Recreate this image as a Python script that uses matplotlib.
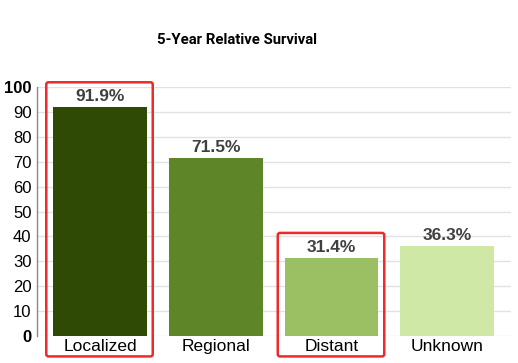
import matplotlib.pyplot as plt
from matplotlib.patches import FancyBboxPatch

categories = ["Localized", "Regional", "Distant", "Unknown"]
survival = [91.9, 71.5, 31.4, 36.3]
colors = ["#2e4a04", "#5e8526", "#9bc063", "#cfe8a6"]
highlight = ["Localized", "Distant"]
yticks = [0, 10, 20, 30, 40, 50, 60, 70, 80, 90, 100]

plt.rcParams['font.family'] = ['Liberation Sans', 'DejaVu Sans']

fig = plt.figure(figsize=(5.18, 3.63), dpi=100)
ax = fig.add_axes([37 / 518, 1 - 336 / 363, 474 / 518, 249 / 363])

x = range(len(categories))
bars = ax.bar(x, survival, width=0.81, color=colors, zorder=2)

for i, v in enumerate(survival):
    ax.text(i, v + 1.2, f"{v}%", ha="center", va="bottom", fontsize=12.5,
            fontweight="bold", color="#404040")

# red frames around highlighted stages
for i, cat in enumerate(categories):
    if cat in highlight:
        top = survival[i] + 10
        box = FancyBboxPatch((i - 0.465, -8.2), 0.92, top + 8.2,
                             boxstyle="round,pad=0,rounding_size=0.02",
                             fill=False, edgecolor="#ee2a2a", linewidth=1.8,
                             clip_on=False, zorder=3,
                             mutation_aspect=100 / 0.92 * 0.4)
        ax.add_patch(box)

ax.set_xlim(-0.545, len(categories) - 0.45)
ax.set_ylim(0, 100)
ax.set_xticks(list(x))
ax.set_xticklabels(categories, fontsize=12.5)
ax.set_yticks(yticks)
ax.set_yticklabels([str(t) for t in yticks], fontsize=12)
for lbl in ax.get_yticklabels():
    if lbl.get_text() in ("0", "100"):
        lbl.set_fontweight("bold")
ax.tick_params(length=0, pad=4)
ax.tick_params(axis="x", pad=2)

ax.grid(axis="y", color="#e2e2e2", linewidth=1, zorder=0)
ax.set_axisbelow(True)
for s in ["top", "right", "bottom"]:
    ax.spines[s].set_visible(False)
ax.spines["left"].set_color("#888888")
ax.spines["left"].set_linewidth(1)

fig.text(237 / 518, 1 - 40 / 363, "5-Year Relative Survival", ha="center",
         va="center", fontsize=10.7, fontweight="bold", family="Roboto")

fig.savefig("out.png", dpi=100)
